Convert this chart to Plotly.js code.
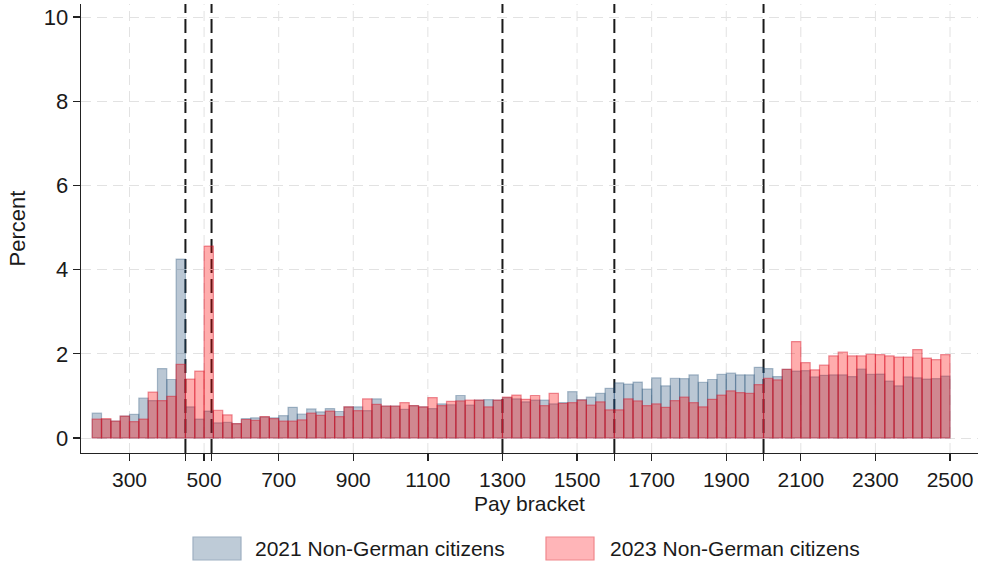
<!DOCTYPE html>
<html>
<head>
<meta charset="utf-8">
<script src="https://cdn.plot.ly/plotly-3.0.1.min.js"></script>
<style>
  html, body { margin: 0; padding: 0; background: #ffffff; }
  #chart { width: 981px; height: 563px; }
</style>
</head>
<body>
<div id="chart"></div>
<script>
// Lower bound of each 25-unit pay bracket
const bracketLow = [
  200, 225, 250, 275, 300, 325, 350, 375, 400, 425,
  450, 475, 500, 525, 550, 575, 600, 625, 650, 675,
  700, 725, 750, 775, 800, 825, 850, 875, 900, 925,
  950, 975, 1000, 1025, 1050, 1075, 1100, 1125, 1150, 1175,
  1200, 1225, 1250, 1275, 1300, 1325, 1350, 1375, 1400, 1425,
  1450, 1475, 1500, 1525, 1550, 1575, 1600, 1625, 1650, 1675,
  1700, 1725, 1750, 1775, 1800, 1825, 1850, 1875, 1900, 1925,
  1950, 1975, 2000, 2025, 2050, 2075, 2100, 2125, 2150, 2175,
  2200, 2225, 2250, 2275, 2300, 2325, 2350, 2375, 2400, 2425,
  2450, 2475
];
const bracketWidth = 25;

// Share of non-German citizens in each bracket (percent)
const share2021 = [
  0.59, 0.44, 0.40, 0.52, 0.56, 0.95, 0.89, 1.65, 1.39, 4.25,
  0.74, 0.45, 0.64, 0.36, 0.37, 0.34, 0.46, 0.48, 0.50, 0.48,
  0.53, 0.73, 0.57, 0.69, 0.62, 0.70, 0.63, 0.74, 0.74, 0.65,
  0.93, 0.76, 0.76, 0.68, 0.77, 0.74, 0.70, 0.81, 0.79, 1.01,
  0.78, 0.90, 0.91, 0.90, 0.96, 0.93, 0.86, 0.90, 0.90, 0.81,
  0.84, 1.10, 0.91, 0.97, 1.06, 1.18, 1.31, 1.28, 1.33, 1.16,
  1.43, 1.24, 1.42, 1.41, 1.50, 1.32, 1.39, 1.51, 1.54, 1.50,
  1.50, 1.68, 1.65, 1.46, 1.63, 1.59, 1.60, 1.45, 1.49, 1.50,
  1.50, 1.46, 1.64, 1.51, 1.52, 1.35, 1.24, 1.45, 1.43, 1.40,
  1.41, 1.47
];
const share2023 = [
  0.45, 0.46, 0.40, 0.52, 0.39, 0.45, 1.09, 0.89, 0.99, 1.75,
  1.40, 1.59, 4.56, 0.66, 0.55, 0.34, 0.44, 0.42, 0.51, 0.46,
  0.40, 0.40, 0.43, 0.59, 0.54, 0.64, 0.51, 0.74, 0.65, 0.93,
  0.80, 0.76, 0.76, 0.84, 0.77, 0.74, 0.96, 0.77, 0.87, 0.88,
  0.90, 0.90, 0.74, 0.90, 0.97, 1.02, 0.92, 1.01, 0.77, 1.06,
  0.82, 0.84, 0.90, 0.78, 0.86, 0.67, 0.67, 0.93, 0.88, 0.77,
  0.81, 0.73, 0.89, 0.97, 0.84, 0.74, 0.92, 1.02, 1.12, 1.08,
  1.06, 1.27, 1.42, 1.38, 1.63, 2.29, 1.79, 1.62, 1.73, 1.95,
  2.04, 1.95, 1.95, 1.99, 1.98, 1.95, 1.92, 1.92, 2.10, 1.90,
  1.86, 1.98
];

const seriesNames = ['2021 Non-German citizens', '2023 Non-German citizens'];
const xTickVals = [300, 500, 700, 900, 1100, 1300, 1500, 1700, 1900, 2100, 2300, 2500];
const yTickVals = [0, 2, 4, 6, 8, 10];
const referenceLines = [450, 520, 1300, 1600, 2000];

const FONT = 'Liberation Sans, Arial, Helvetica, sans-serif';
const INK = '#1a1a1a';
const GRID = '#e2e2e2';
const navyFill = 'rgba(26,71,111,0.30)';
const navyEdge = 'rgba(26,71,111,0.32)';
const redFill = 'rgba(255,0,0,0.32)';
const redEdge = 'rgba(215,20,40,0.45)';

const traces = [
  {
    type: 'bar', name: seriesNames[0],
    x: bracketLow, y: share2021,
    width: bracketWidth, offset: 0,
    marker: { color: navyFill, line: { color: navyEdge, width: 1.2 } },
    showlegend: false, hoverinfo: 'x+y'
  },
  {
    type: 'bar', name: seriesNames[1],
    x: bracketLow, y: share2023,
    width: bracketWidth, offset: 0,
    marker: { color: redFill, line: { color: redEdge, width: 1.2 } },
    showlegend: false, hoverinfo: 'x+y'
  }
];

const shapes = [];

// Vertical grid at the labelled ticks (skipped where a policy marker sits)
xTickVals.filter(v => referenceLines.indexOf(v) < 0).forEach(v => {
  shapes.push({
    type: 'line', xref: 'x', yref: 'paper',
    x0: v, x1: v, y0: 0, y1: 1, layer: 'below',
    line: { color: GRID, width: 1, dash: '10px,6px' }
  });
});

// Dashed policy markers across the plot area
referenceLines.forEach(v => {
  shapes.push({
    type: 'line', xref: 'x', yref: 'paper',
    x0: v, x1: v, y0: 0, y1: 1,
    layer: 'between',
    line: { color: '#1a1a1a', width: 2, dash: '14px,6px' }
  });
});

// Legend keys drawn below the axis
const plotL = 81, plotR = 978, plotT = 4, plotB = 453;
const px = v => (v - plotL) / (plotR - plotL);
const py = v => (plotB - v) / (plotB - plotT);
const keys = [
  { x0: 193, fill: 'rgb(190,203,215)', edge: 'rgb(158,176,194)', textX: 253 },
  { x0: 546, fill: 'rgb(255,181,184)', edge: 'rgb(240,135,140)', textX: 608 }
];
keys.forEach(k => {
  shapes.push({
    type: 'rect', xref: 'paper', yref: 'paper',
    x0: px(k.x0), x1: px(k.x0 + 48), y0: py(560), y1: py(537),
    fillcolor: k.fill, line: { color: k.edge, width: 1.2 }
  });
});
const annotations = keys.map((k, i) => ({
  xref: 'paper', yref: 'paper',
  x: px(k.textX), y: py(548.5),
  xanchor: 'left', yanchor: 'middle',
  text: seriesNames[i], showarrow: false,
  font: { family: FONT, size: 21, color: INK }
}));

const layout = {
  width: 981, height: 563,
  margin: { l: plotL, r: 981 - plotR, t: plotT, b: 563 - plotB, pad: 0 },
  paper_bgcolor: '#ffffff', plot_bgcolor: '#ffffff',
  barmode: 'overlay', bargap: 0,
  font: { family: FONT, color: INK },
  xaxis: {
    range: [170, 2575],
    tickmode: 'array', tickvals: xTickVals,
    ticktext: xTickVals.map(String),
    ticks: 'outside', ticklen: 7, tickwidth: 1.3, tickcolor: '#222',
    tickfont: { family: FONT, size: 21, color: INK },
    showline: true, linecolor: '#222', linewidth: 1.3,
    showgrid: false,
    zeroline: false,
    minor: {
      tickmode: 'array', tickvals: referenceLines,
      ticks: 'outside', ticklen: 7, tickwidth: 1.3, tickcolor: '#222',
      showgrid: false
    },
    title: { text: 'Pay bracket', font: { family: FONT, size: 21, color: INK }, standoff: 6 }
  },
  yaxis: {
    range: [-0.356, 10.31],
    tickmode: 'array', tickvals: yTickVals,
    ticks: 'outside', ticklen: 7, tickwidth: 1.3, tickcolor: '#222',
    tickfont: { family: FONT, size: 22, color: INK },
    showline: true, linecolor: '#222', linewidth: 1.3,
    showgrid: true, gridcolor: GRID, gridwidth: 1, griddash: '10px,6px',
    zeroline: false,
    title: { text: 'Percent', font: { family: FONT, size: 22, color: INK }, standoff: 12 }
  },
  shapes: shapes,
  annotations: annotations,
  showlegend: false
};

Plotly.newPlot('chart', traces, layout, { staticPlot: true, displayModeBar: false });
</script>
</body>
</html>
